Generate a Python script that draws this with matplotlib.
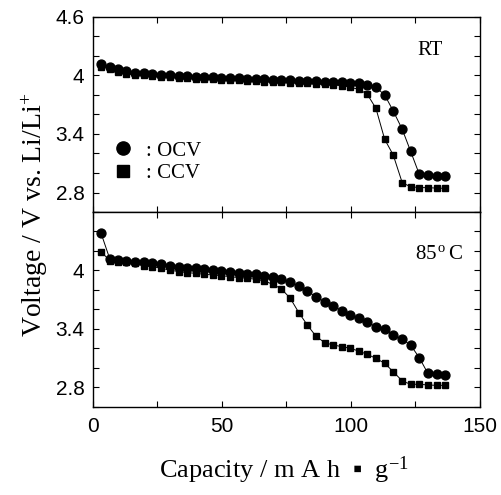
import matplotlib.pyplot as plt
from matplotlib.lines import Line2D

capacity = [3.1, 6.6, 9.8, 13.0, 16.5, 19.9, 23.1, 26.4, 29.8, 33.2,
            36.4, 39.8, 43.1, 46.5, 49.7, 53.1, 56.5, 59.8, 63.2, 66.4,
            69.8, 73.1, 76.5, 79.8, 83.1, 86.4, 89.8, 93.1, 96.5, 99.7,
            103.0, 106.3, 109.7, 113.1, 116.4, 119.9, 123.1, 126.5, 129.8, 133.2,
            136.6]

rt_ocv = [4.115, 4.09, 4.068, 4.046, 4.03, 4.022, 4.015, 4.008, 4.005, 3.998,
          3.995, 3.988, 3.985, 3.981, 3.978, 3.974, 3.971, 3.967, 3.964, 3.961,
          3.957, 3.954, 3.95, 3.947, 3.944, 3.94, 3.937, 3.933, 3.93, 3.926,
          3.92, 3.903, 3.879, 3.80, 3.636, 3.448, 3.226, 2.987, 2.976, 2.969,
          2.969]
rt_ccv = [4.09, 4.07, 4.035, 4.02, 4.005, 4.0, 3.993, 3.988, 3.983, 3.978,
          3.973, 3.968, 3.965, 3.96, 3.957, 3.953, 3.95, 3.946, 3.942, 3.938,
          3.934, 3.93, 3.926, 3.922, 3.918, 3.914, 3.91, 3.905, 3.895, 3.88,
          3.858, 3.81, 3.663, 3.345, 3.185, 2.90, 2.86, 2.85, 2.85, 2.845,
          2.843]

ht_ocv = [4.388, 4.115, 4.108, 4.101, 4.091, 4.084, 4.074, 4.063, 4.05, 4.04,
          4.029, 4.022, 4.012, 4.002, 3.995, 3.985, 3.978, 3.968, 3.961, 3.947,
          3.937, 3.91, 3.879, 3.841, 3.79, 3.731, 3.68, 3.636, 3.588, 3.544,
          3.51, 3.468, 3.424, 3.397, 3.338, 3.294, 3.236, 3.106, 2.946, 2.938,
          2.928]
ht_ccv = [4.193, 4.101, 4.091, 4.084, 4.074, 4.046, 4.04, 4.022, 4.005, 3.988,
          3.978, 3.971, 3.961, 3.954, 3.947, 3.937, 3.927, 3.92, 3.91, 3.892,
          3.858, 3.81, 3.715, 3.568, 3.441, 3.328, 3.26, 3.236, 3.219, 3.202,
          3.174, 3.14, 3.099, 3.048, 2.962, 2.867, 2.833, 2.833, 2.826, 2.822,
          2.822]

serif = "Liberation Serif"
sans = "Liberation Sans"

plt.rcParams["mathtext.fontset"] = "custom"
plt.rcParams["mathtext.rm"] = serif
plt.rcParams["mathtext.it"] = serif + ":italic"

fig = plt.figure(figsize=(5.02, 4.95), dpi=100)
ax_top = fig.add_axes([0.185, 0.5717, 0.771, 0.394])
ax_bot = fig.add_axes([0.185, 0.1778, 0.771, 0.394], sharex=ax_top)

for ax, ocv, ccv in [(ax_top, rt_ocv, rt_ccv), (ax_bot, ht_ocv, ht_ccv)]:
    ax.plot(capacity, ocv, color="black", lw=0.7, marker="o", ms=6.4, zorder=3)
    ax.plot(capacity, ccv, color="black", lw=0.7, marker="s", ms=4.3, zorder=2)
    ax.set_xlim(0, 150)
    ax.set_ylim(2.6, 4.6)
    ax.tick_params(which="both", direction="in", top=True, right=True,
                   length=4.5, width=0.8, pad=6)
    for s in ax.spines.values():
        s.set_linewidth(1.0)

ax_top.set_yticks([4.6, 4.0, 3.4, 2.8], labels=["4.6", "4", "3.4", "2.8"])
ax_top.set_yticks([4.4, 4.2, 3.8, 3.6, 3.2, 3.0, 2.6], minor=True)
ax_bot.set_yticks([4.0, 3.4, 2.8], labels=["4", "3.4", "2.8"])
ax_bot.set_yticks([4.6, 4.4, 4.2, 3.8, 3.6, 3.2, 3.0, 2.6], minor=True)
ax_bot.set_xticks([0, 25, 50, 75, 100, 125, 150],
                  labels=["0", "", "50", "", "100", "", "150"])
ax_top.tick_params(labelbottom=False)
ax_bot.tick_params(axis="x", pad=7)

for ax in (ax_top, ax_bot):
    for lab in ax.get_xticklabels() + ax.get_yticklabels():
        lab.set_fontfamily(sans)
        lab.set_fontsize(15)

ax_top.text(0.87, 0.83, "RT", transform=ax_top.transAxes, fontfamily=serif,
            fontsize=15, ha="center", va="center")
ax_bot.text(0.895, 0.78, r"85$^{\,\mathrm{o}}\,$C", transform=ax_bot.transAxes,
            fontfamily=serif, fontsize=15, ha="center", va="center")

handles = [Line2D([], [], color="black", marker="o", ms=9.5, ls="none"),
           Line2D([], [], color="black", marker="s", ms=8.5, ls="none")]
ax_top.legend(handles, [": OCV", ": CCV"], loc="center left",
              bbox_to_anchor=(-0.025, 0.255), frameon=False, handletextpad=0.1,
              labelspacing=0.15, prop={"family": serif, "size": 15})

fig.text(0.07, 0.566, r"Voltage / V vs. Li/Li$^{+}$", rotation=90, ha="center",
         va="center", fontfamily=serif, fontsize=20)
fig.text(0.565, 0.05, "Capacity / m A h  \u25aa  g$^{-1}$", ha="center",
         va="center", family=[serif, "DejaVu Sans"], fontsize=19)

fig.savefig("out.png", dpi=100)
